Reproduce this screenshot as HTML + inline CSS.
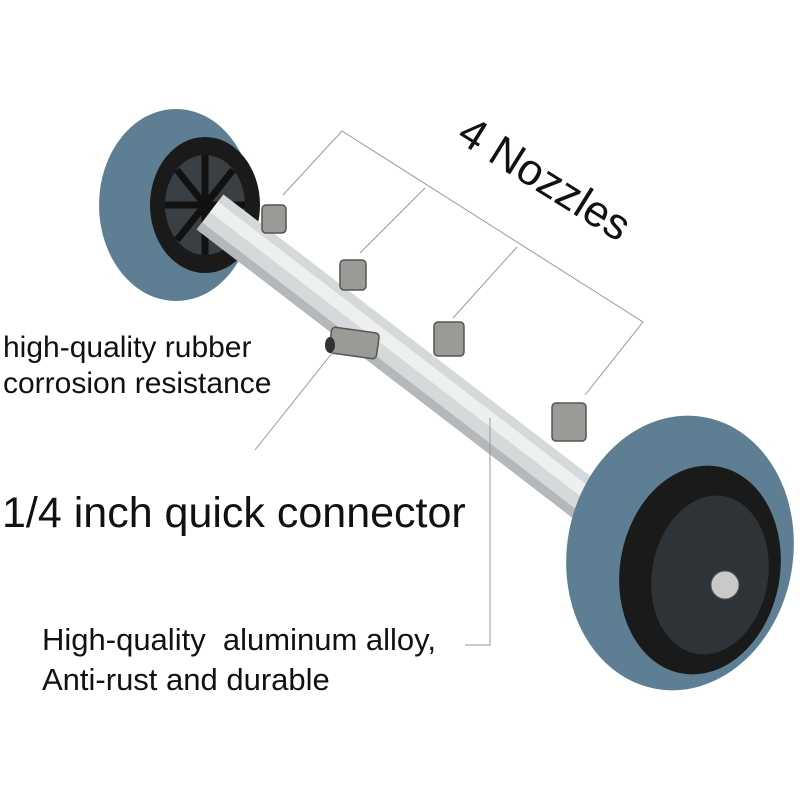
<!DOCTYPE html>
<html><head><style>body{margin:0;background:#fff}svg{display:block}</style></head><body>
<svg width="800" height="800" viewBox="0 0 800 800" xmlns="http://www.w3.org/2000/svg" font-family="Liberation Sans, sans-serif">
<!-- left wheel -->
<ellipse cx="176" cy="205" rx="77" ry="96" fill="#5e7f93"/>
<ellipse cx="205" cy="205" rx="55" ry="68" fill="#1a1a1a"/>
<ellipse cx="205" cy="205" rx="40" ry="50" fill="#3a3f44"/>
<g stroke="#111" stroke-width="7">
<line x1="205" y1="155" x2="205" y2="255"/><line x1="165" y1="205" x2="245" y2="205"/>
<line x1="177" y1="170" x2="233" y2="240"/><line x1="233" y1="170" x2="177" y2="240"/></g>
<!-- pipe -->
<g transform="translate(210,212) rotate(37.5)">
<rect x="0" y="-22" width="490" height="44" fill="#d6d9da"/>
<rect x="0" y="-13" width="490" height="13" fill="#eef0f0"/>
<rect x="0" y="13" width="490" height="9" fill="#b5b8ba"/>
</g>
<!-- nozzles -->
<g fill="#9a9a96" stroke="#555" stroke-width="1.5">
<rect x="262" y="205" width="24" height="28" rx="4"/>
<rect x="340" y="260" width="26" height="30" rx="4"/>
<rect x="434" y="322" width="30" height="34" rx="4"/>
<rect x="552" y="403" width="34" height="38" rx="4"/>
<rect x="330" y="330" width="48" height="26" rx="4" transform="rotate(8 354 343)"/>
</g>
<ellipse cx="330" cy="345" rx="5" ry="8" fill="#333"/>
<!-- right wheel -->
<ellipse cx="680" cy="553" rx="113" ry="138" fill="#5e7f93" transform="rotate(10 680 553)"/>
<ellipse cx="700" cy="570" rx="80" ry="105" fill="#1a1a1a" transform="rotate(10 700 570)"/>
<ellipse cx="710" cy="575" rx="58" ry="80" fill="#2e3338" transform="rotate(10 710 575)"/>
<circle cx="725" cy="585" r="14" fill="#c9c9c9" stroke="#555"/>
<!-- callout lines -->
<g stroke="#999" stroke-width="1" fill="none">
<polyline points="283,195 342,131 643,322 585,395"/>
<line x1="425" y1="188" x2="360" y2="253"/>
<line x1="517" y1="247" x2="453" y2="318"/>
<line x1="337" y1="347" x2="255" y2="450"/>
<polyline points="490,418 490,645 465,645"/>
</g>
<text x="455" y="140" font-size="44" transform="rotate(32 455 140)" fill="#111">4 Nozzles</text>
<text x="3" y="357" font-size="30" fill="#111">high-quality rubber</text>
<text x="3" y="393" font-size="30" fill="#111">corrosion resistance</text>
<text x="2" y="527" font-size="43" fill="#111">1/4 inch quick connector</text>
<text x="42" y="650" font-size="31" fill="#111" xml:space="preserve">High-quality  aluminum alloy,</text>
<text x="42" y="690" font-size="31" fill="#111">Anti-rust and durable</text>
</svg>
</body></html>
